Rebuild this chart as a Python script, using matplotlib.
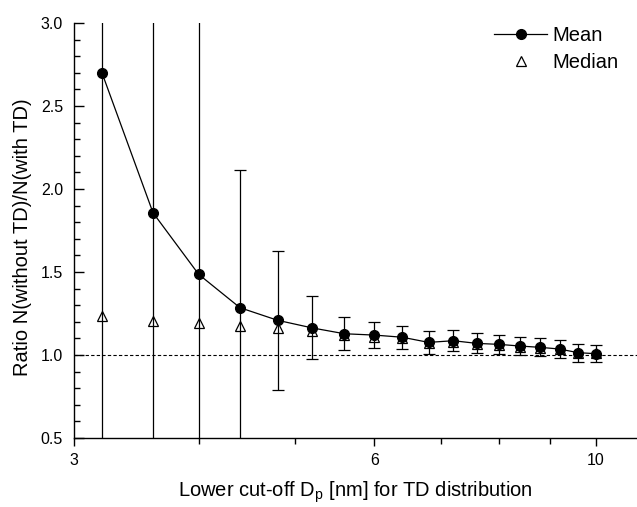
import matplotlib.pyplot as plt
from matplotlib.lines import Line2D
from matplotlib.ticker import FixedLocator, NullFormatter, MultipleLocator

plt.rcParams['font.family'] = ['Liberation Sans', 'DejaVu Sans']

# lower cut-off diameters (nm)
cutoff = [3.2, 3.6, 4.0, 4.4, 4.8, 5.2, 5.6, 6.0, 6.4, 6.8,
          7.2, 7.6, 8.0, 8.4, 8.8, 9.2, 9.6, 10.0]
mean_ratio = [2.70, 1.857, 1.486, 1.285, 1.209, 1.163, 1.128, 1.120, 1.107, 1.076,
              1.086, 1.070, 1.064, 1.054, 1.046, 1.036, 1.014, 1.008]
mean_err = [2.5, 1.9, 1.6, 0.828, 0.42, 0.19, 0.10, 0.077, 0.07, 0.07,
            0.062, 0.06, 0.058, 0.055, 0.055, 0.054, 0.054, 0.053]
median_ratio = [1.237, 1.205, 1.195, 1.175, 1.160, 1.146, 1.120, 1.110, 1.100, 1.070,
                1.080, 1.065, 1.060, 1.050, 1.045, 1.035, 1.015, 1.010]

fig = plt.figure(figsize=(6.37, 5.07), dpi=100)
ax = fig.add_axes([74/637, 69/507, 563/637, 415/507])

ax.axhline(1.0, color='black', lw=0.8, ls=(0, (3, 2)), zorder=1)

ax.plot(cutoff, median_ratio, ls='none', marker='^', ms=7, mfc='white',
        mec='black', mew=0.9, zorder=2)
ax.errorbar(cutoff, mean_ratio, yerr=mean_err, color='black', lw=0.9,
            elinewidth=0.9, capsize=4, capthick=0.9, marker='o', ms=7,
            zorder=3)

ax.set_xscale('log')
ax.set_xlim(3, 11)
ax.set_ylim(0.5, 3.0)

ax.xaxis.set_major_locator(FixedLocator([3, 6, 10]))
ax.xaxis.set_major_formatter(plt.FixedFormatter(['3', '6', '10']))
ax.xaxis.set_minor_locator(FixedLocator([4, 5, 7, 8, 9]))
ax.xaxis.set_minor_formatter(NullFormatter())
ax.yaxis.set_major_locator(MultipleLocator(0.5))
ax.yaxis.set_minor_locator(MultipleLocator(0.1))
ax.yaxis.set_major_formatter(plt.FormatStrFormatter('%.1f'))

ax.tick_params(axis='x', which='major', direction='out', length=6, width=1,
               labelsize=11.5, pad=5)
ax.tick_params(axis='x', which='minor', direction='out', length=4, width=1)
ax.tick_params(axis='y', which='major', direction='in', length=7, width=1,
               labelsize=11.5, pad=8)
ax.tick_params(axis='y', which='minor', direction='in', length=4, width=1)

for side in ['top', 'right']:
    ax.spines[side].set_visible(False)
for side in ['left', 'bottom']:
    ax.spines[side].set_linewidth(1)

ax.set_xlabel('Lower cut-off D$_\\mathregular{p}$ [nm] for TD distribution',
              fontsize=14.5, labelpad=8)
ax.set_ylabel('Ratio N(without TD)/N(with TD)', fontsize=14.5, labelpad=6,
              y=0.483)

handles = [
    Line2D([], [], color='black', lw=0.9, marker='o', ms=7),
    Line2D([], [], ls='none', marker='^', ms=7, mfc='white', mec='black', mew=0.9),
]
ax.legend(handles, ['Mean', 'Median'], loc='upper right',
          bbox_to_anchor=(1.0, 1.037), frameon=False, fontsize=14.5,
          handlelength=2.6, handletextpad=0.3, labelspacing=0.4)

fig.savefig('out.png', dpi=100)
